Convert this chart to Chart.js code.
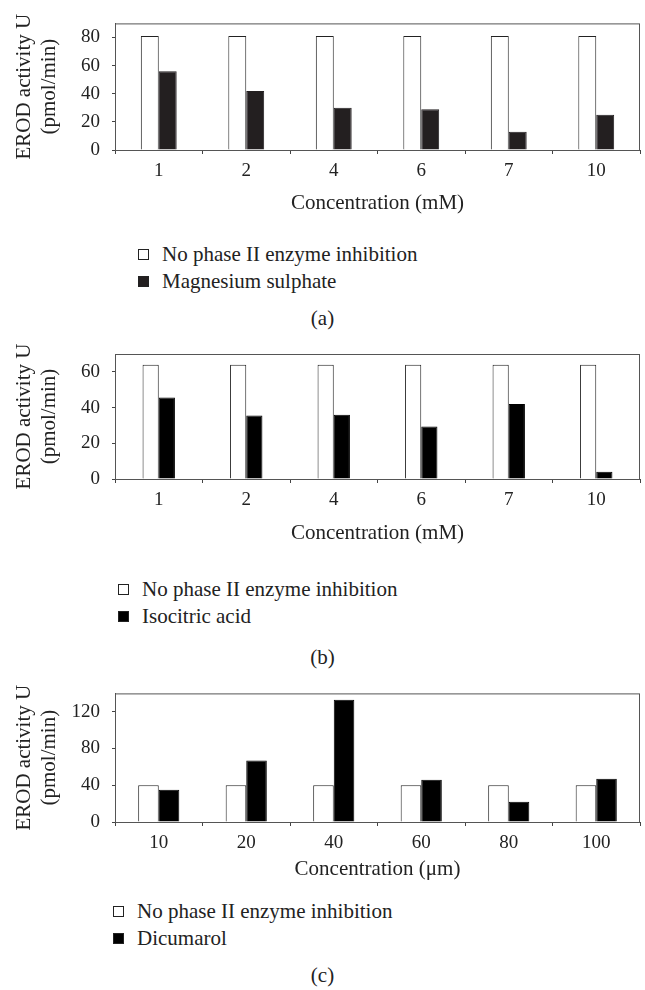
<!DOCTYPE html>
<html>
<head>
<meta charset="utf-8">
<script src="https://cdn.jsdelivr.net/npm/chart.js@4.4.0/dist/chart.umd.min.js"></script>
<style>
  body { margin: 0; background: #fff; }
  #page { position: relative; width: 645px; height: 990px; font-family: "Liberation Serif", "DejaVu Serif", serif; color: #222; }
  canvas { position: absolute; left: 0; }
  .legend { position: absolute; font-size: 21px; line-height: 27px; }
  .legend div { display: flex; align-items: center; white-space: nowrap; }
  .legend span.box { display: inline-block; width: 9px; height: 9px; border: 1px solid #222; margin-right: 13px; }
  .panel { position: absolute; width: 645px; left: 0; text-align: center; font-size: 21px; }
</style>
</head>
<body>
<div id="page">
  <canvas id="chartA" width="645" height="230" style="top:0"></canvas>
  <div class="legend" id="legendA" style="left:138px; top:241px"></div>
  <div class="panel" style="top:306px">(a)</div>

  <canvas id="chartB" width="645" height="230" style="top:330px"></canvas>
  <div class="legend" id="legendB" style="left:118px; top:576px"></div>
  <div class="panel" style="top:645px">(b)</div>

  <canvas id="chartC" width="645" height="226" style="top:670px"></canvas>
  <div class="legend" id="legendC" style="left:113px; top:898px"></div>
  <div class="panel" style="top:963px">(c)</div>
</div>
<script>
const concMM = ["1", "2", "4", "6", "7", "10"];
const concUM = ["10", "20", "40", "60", "80", "100"];

const controlA = [81, 81, 81, 81, 81, 81];
const magnesium = [56, 42, 30, 29, 13, 25];

const controlB = [64, 64, 64, 64, 64, 64];
const isocitric = [45.6, 35.6, 36, 29.4, 42, 4];

const controlC = [40, 40, 40, 40, 40, 40];
const dicumarol = [35, 67, 133, 46, 22, 47];

const FONT = "'Liberation Serif', 'DejaVu Serif', serif";
const AXIS = "#444";

// box around the plot area (top and right sides)
const frame = {
  id: "frame",
  afterDraw(chart) {
    const { ctx, chartArea: a } = chart;
    ctx.save();
    ctx.strokeStyle = "#555";
    ctx.lineWidth = 1;
    ctx.strokeRect(a.left + 0.5, a.top + 0.5, a.right - a.left - 1, a.bottom - a.top);
    ctx.restore();
  },
};

function makeChart(id, opts) {
  return new Chart(document.getElementById(id), {
    type: "bar",
    data: {
      labels: opts.labels,
      datasets: [
        {
          label: "No phase II enzyme inhibition",
          data: opts.control,
          backgroundColor: "#fff",
          borderColor: "#222",
          borderWidth: 1,
          categoryPercentage: opts.catPct,
          barPercentage: 1,
        },
        {
          label: opts.name,
          data: opts.values,
          backgroundColor: opts.color,
          borderColor: opts.color,
          borderWidth: 1,
          categoryPercentage: opts.catPct,
          barPercentage: 1,
        },
      ],
    },
    options: {
      responsive: false,
      animation: false,
      layout: { padding: { top: opts.top, right: 5, left: 0, bottom: 0 } },
      plugins: { legend: { display: false }, tooltip: { enabled: false } },
      scales: {
        x: {
          afterFit: (s) => { s.height = opts.xHeight; },
          grid: { drawOnChartArea: false, tickLength: 4, color: AXIS, offset: true },
          border: { color: AXIS },
          ticks: { color: "#222", padding: 6, font: { family: FONT, size: 19 } },
          title: {
            display: true,
            text: opts.xTitle,
            color: "#222",
            padding: { top: 0, bottom: 14 },
            font: { family: FONT, size: 21 },
          },
        },
        y: {
          min: 0,
          max: opts.max,
          afterFit: (s) => { s.width = 115; },
          grid: { drawOnChartArea: false, tickLength: 3, color: AXIS },
          border: { color: AXIS },
          ticks: {
            stepSize: opts.step,
            padding: 12,
            color: "#222",
            font: { family: FONT, size: 19 },
            callback: (v) => (v % opts.labelStep === 0 ? v : ""),
          },
          title: {
            display: true,
            text: ["EROD activity U", "(pmol/min)"],
            color: "#222",
            padding: { top: 12, bottom: 0 },
            font: { family: FONT, size: 21, lineHeight: 1.2 },
          },
        },
      },
    },
    plugins: [frame],
  });
}

function fillLegend(id, chart) {
  const el = document.getElementById(id);
  chart.data.datasets.forEach((ds) => {
    const row = document.createElement("div");
    const box = document.createElement("span");
    box.className = "box";
    box.style.background = ds.backgroundColor;
    row.appendChild(box);
    row.appendChild(document.createTextNode(ds.label));
    el.appendChild(row);
  });
}

const chartA = makeChart("chartA", {
  labels: concMM, control: controlA, values: magnesium, name: "Magnesium sulphate",
  color: "#231f20", max: 90, step: 10, labelStep: 20, top: 5, xHeight: 80,
  catPct: 0.41, xTitle: "Concentration (mM)",
});
const chartB = makeChart("chartB", {
  labels: concMM, control: controlB, values: isocitric, name: "Isocitric acid",
  color: "#000", max: 70, step: 10, labelStep: 20, top: 24, xHeight: 81,
  catPct: 0.37, xTitle: "Concentration (mM)",
});
const chartC = makeChart("chartC", {
  labels: concUM, control: controlC, values: dicumarol, name: "Dicumarol",
  color: "#000", max: 140, step: 20, labelStep: 40, top: 19, xHeight: 74,
  catPct: 0.47, xTitle: "Concentration (μm)",
});

fillLegend("legendA", chartA);
fillLegend("legendB", chartB);
fillLegend("legendC", chartC);
</script>
</body>
</html>
